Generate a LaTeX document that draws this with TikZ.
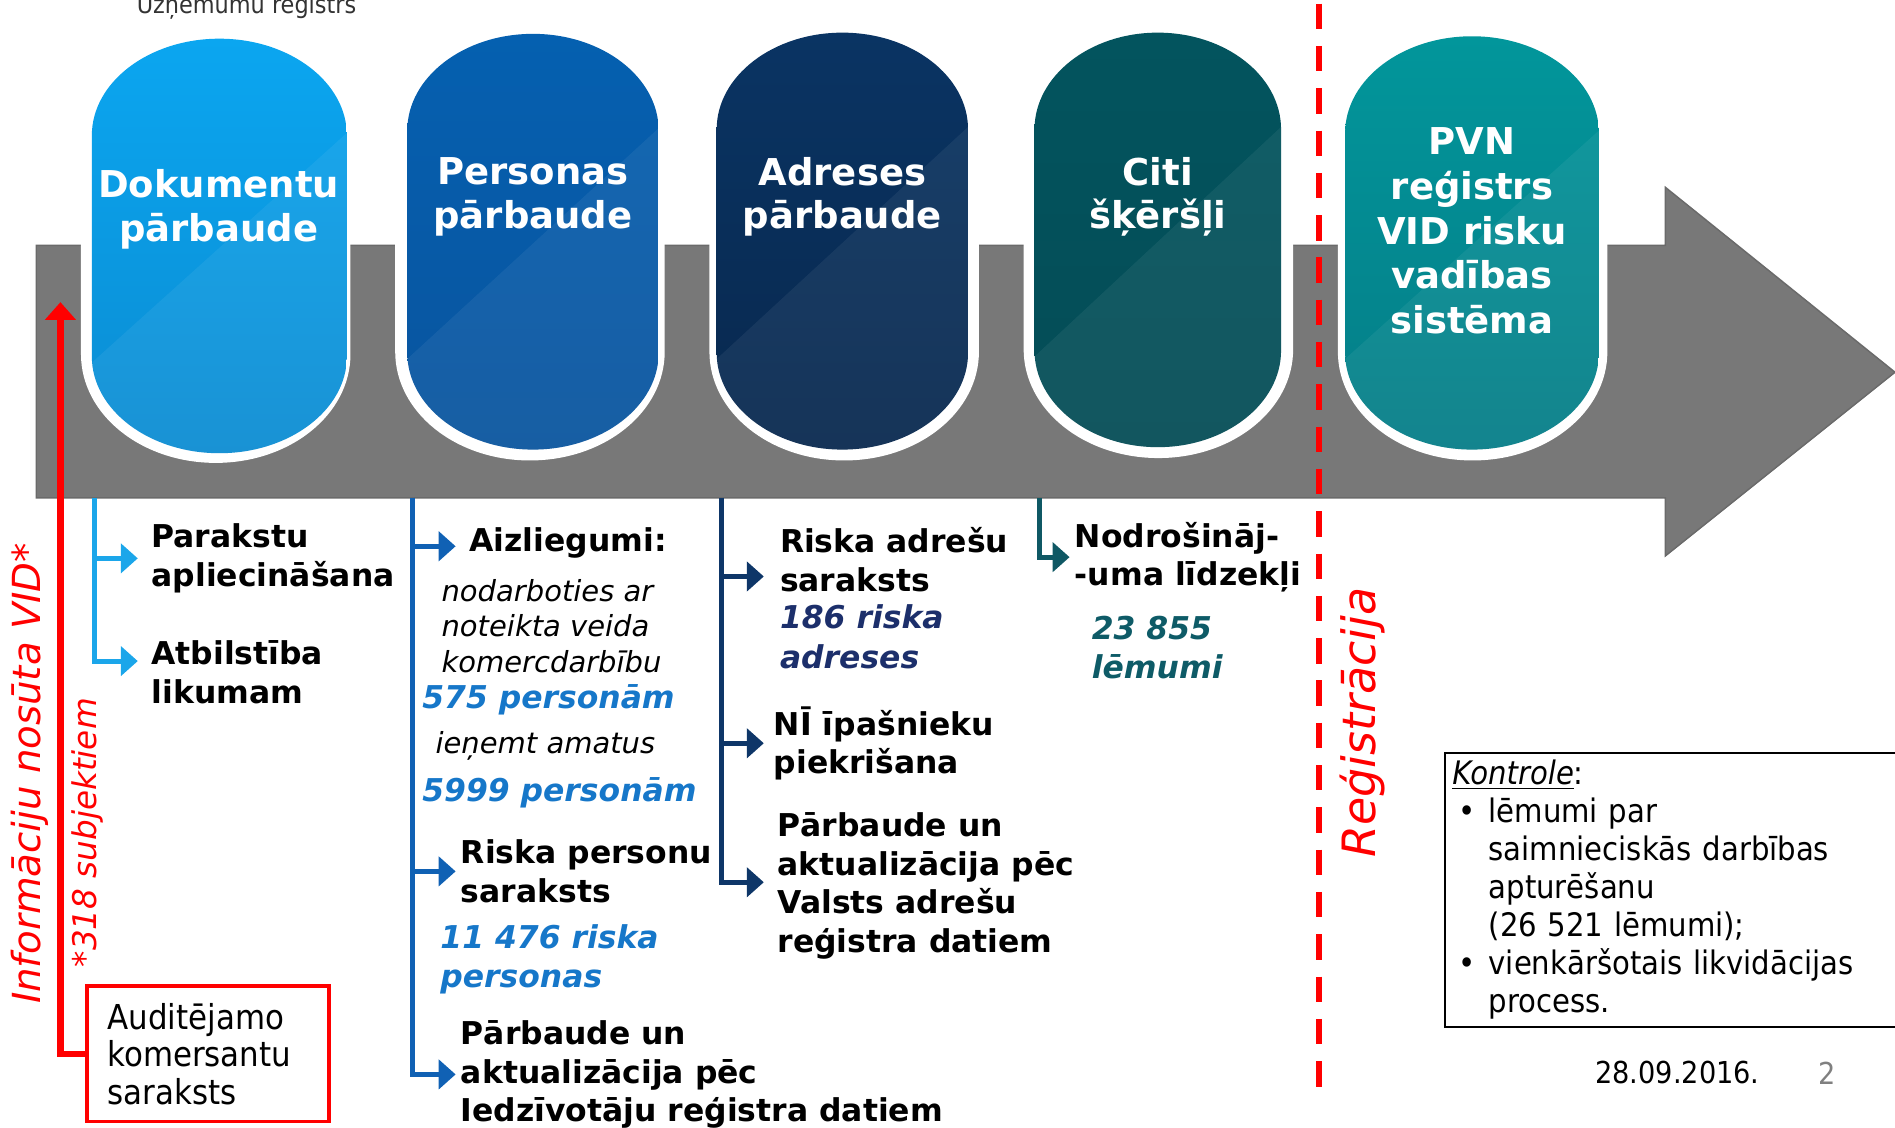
\documentclass[tikz,border=0pt]{standalone}
\usepackage{fontspec}
\setmainfont{DejaVu Sans}
\newfontfamily\tahoma{DejaVu Sans Condensed}
\usetikzlibrary{arrows.meta}

\definecolor{bargray}{HTML}{787878}
\definecolor{baredge}{HTML}{6A6A6A}
\definecolor{colA}{HTML}{1BA6EA}
\definecolor{colB}{HTML}{1061B4}
\definecolor{colC}{HTML}{0E3668}
\definecolor{colD}{HTML}{0F5864}
\definecolor{numB}{HTML}{1677C9}
\definecolor{numC}{HTML}{1C2F6B}
\definecolor{numD}{HTML}{0E5B67}

% pill: left, top, right, bottom, top colour, bottom colour (hex)
\newcommand{\drawpill}[6]{%
  \definecolor{pilltop}{HTML}{#5}
  \definecolor{pillbot}{HTML}{#6}
  \pgfmathsetmacro{\pc}{(#1+#3)/2}
  \pgfmathsetmacro{\pk}{0.552*(#3-#1)/2}
  \begin{scope}
    \clip (#1,#2+80) .. controls (#1,#2+36) and (\pc-\pk,#2) .. (\pc,#2)
      .. controls (\pc+\pk,#2) and (#3,#2+36) .. (#3,#2+80)
      -- (#3,#4-80) .. controls (#3,#4-36) and (\pc+\pk,#4) .. (\pc,#4)
      .. controls (\pc-\pk,#4) and (#1,#4-36) .. (#1,#4-80) -- cycle;
    \shade[top color=pilltop, bottom color=pillbot] (#1,#2) rectangle (#3,#4);
    \fill[white, opacity=0.06] (#1,#4-75) -- (#3,#2+78) -- (#3,#4) -- (#1,#4) -- cycle;
  \end{scope}
}
% white cut in the bar: left, right, bottom
\newcommand{\drawnotch}[3]{%
  \pgfmathsetmacro{\pc}{(#1+#2)/2}
  \pgfmathsetmacro{\pk}{0.552*(#2-#1)/2}
  \fill[white] (#1,-60) -- (#1,#3-90) .. controls (#1,#3-40) and (\pc-\pk,#3) .. (\pc,#3)
    .. controls (\pc+\pk,#3) and (#2,#3-40) .. (#2,#3-90) -- (#2,-60) -- cycle;
}

\begin{document}
\begin{tikzpicture}[x=0.5pt,y=-0.5pt,
  pilltext/.style={text=white, font=\bfseries\fontsize{15.3}{18}\selectfont, align=center},
  boldtxt/.style={anchor=west, inner sep=0pt, align=left, font=\bfseries\fontsize{13}{16}\selectfont},
  itxt/.style={anchor=west, inner sep=0pt, align=left, font=\itshape\fontsize{12}{14.75}\selectfont},
  numtxt/.style={anchor=west, inner sep=0pt, align=left, font=\bfseries\itshape\fontsize{13}{16.25}\selectfont},
  link/.style={line width=2pt, -{Triangle[length=7pt,width=12pt]}},
  redtxt/.style={text=red, rotate=90, inner sep=0pt, font=\itshape}]
  \useasboundingbox (0,0) rectangle (1568,933);

  % big arrow
  \fill[bargray, draw=baredge, line width=0.6pt] (30,203) -- (1378,203) -- (1378,155) -- (1568,308)
    -- (1378,460) -- (1378,412) -- (30,412) -- cycle;
  \drawnotch{67}{290}{383}
  \drawnotch{327}{550}{381}
  \drawnotch{587}{810}{381}
  \drawnotch{847}{1070}{379}
  \drawnotch{1107}{1330}{381}

  \drawpill{76}{32}{287}{375}{0BA6F0}{0B8CD2}
  \drawpill{337}{28}{545}{372}{0560B0}{09549E}
  \drawpill{593}{27}{801}{372}{0A3463}{08284E}
  \drawpill{856}{27}{1060}{370}{03545E}{044C56}
  \drawpill{1113}{30}{1323}{372}{02969B}{057D87}

  \node[pilltext] (p1) at (181,173) {Dokumentu\\pārbaude};
  \node[pilltext] (p2) at (441,163) {Personas\\pārbaude};
  \node[pilltext] (p3) at (697,163) {Adreses\\pārbaude};
  \node[pilltext] (p4) at (958,163) {Citi\\šķēršļi};
  \node[pilltext, font=\bfseries\fontsize{15.3}{18.5}\selectfont] (p5) at (1218,191) {PVN\\reģistrs\\VID risku\\vadības\\sistēma};

  \node[anchor=base, inner sep=0pt, text=black!80, font=\tahoma\fontsize{10.3}{12}\selectfont] (ureg) at (204,11) {Uzņēmumu reģistrs};

  % registration border
  \draw[red, line width=2.5pt, dash pattern=on 10.5pt off 7pt] (1091,3) -- (1091,905);
  \node[redtxt, font=\itshape\fontsize{19}{22}\selectfont] (reg) at (1127,598) {Reģistrācija};

  % left side
  \node[redtxt, font=\itshape\fontsize{16}{19}\selectfont] (info) at (25,640) {Informāciju nosūta VID*};
  \node[redtxt, font=\itshape\fontsize{13.5}{16}\selectfont] (subj) at (72,689) {*318 subjektiem};
  \node[draw=red, line width=1.6pt, inner xsep=8.5pt, inner ysep=0pt, text width=83pt, minimum height=56pt,
    align=left, font=\tahoma\fontsize{14.2}{15.5}\selectfont] (audit) at (172,872) {Auditējamo\\komersantu\\saraksts};
  \coordinate (rtip) at (50,250);
  \draw[red, line width=2.6pt, -{Triangle[length=7.3pt,width=12.4pt]}] (audit.west) -| (rtip);

  % column 1
  \coordinate (b1) at (78,412);
  \node[boldtxt] (t11) at (125,462) {Parakstu\\apliecināšana};
  \node[boldtxt] (t12) at (125,556) {Atbilstība\\likumam};
  \draw[link, colA, shorten >=5.5pt] (b1) |- (t11.west);
  \draw[link, colA, shorten >=5.5pt] (b1) |- ([yshift=4.5pt]t12.west);

  % column 2
  \coordinate (b2) at (341,412);
  \node[boldtxt] (t21) at (388,449) {Aizliegumi:};
  \node[itxt] (n21) at (365,518) {nodarboties ar\\noteikta veida\\komercdarbību};
  \node[numtxt, text=numB] (n22) at (349,579) {575 personām};
  \node[itxt] (n23) at (360,617) {ieņemt amatus};
  \node[numtxt, text=numB] (n24) at (349,656) {5999 personām};
  \node[boldtxt] (t22) at (381,721) {Riska personu\\saraksts};
  \node[numtxt, text=numB] (n25) at (364,794) {11 476 riska\\personas};
  \node[boldtxt] (t23) at (381,889) {Pārbaude un\\aktualizācija pēc\\Iedzīvotāju reģistra datiem};
  \draw[link, colB, shorten >=5.5pt] (b2) |- ([yshift=-1.5pt]t21.west);
  \draw[link, colB, shorten >=2pt] (b2) |- (t22.west);
  \draw[link, colB, shorten >=2pt] (b2) |- (t23.west);

  % column 3
  \coordinate (b3) at (597,412);
  \node[boldtxt] (t31) at (645,463) {Riska adrešu\\saraksts};
  \node[numtxt, text=numC] (n31) at (645,527) {186 riska\\adreses};
  \node[boldtxt] (t32) at (640,615) {NĪ īpašnieku\\piekrišana};
  \node[boldtxt] (t33) at (643,733) {Pārbaude un\\aktualizācija pēc\\Valsts adrešu\\reģistra datiem};
  \draw[link, colC, shorten >=6.5pt] (b3) |- ([yshift=-7pt]t31.west);
  \draw[link, colC, shorten >=4pt] (b3) |- (t32.west);
  \draw[link, colC, shorten >=5.5pt] (b3) |- ([yshift=1.5pt]t33.west);

  % column 4
  \coordinate (b4) at (860,412);
  \node[boldtxt] (t41) at (889,461) {Nodrošināj-\\-uma līdzekļi};
  \node[numtxt, text=numD] (n41) at (903,536) {23 855\\lēmumi};
  \draw[link, colD, shorten >=2pt] (b4) |- (t41.west);

  % control box
  \node[draw=black, line width=0.8pt, anchor=north west, inner xsep=3pt, inner ysep=3pt, text width=186pt,
    align=left, font=\tahoma\fontsize{13.4}{15.75}\selectfont] (ctrl) at (1195,622)
    {\underline{\textit{Kontrole}}:\\
     \hspace*{2.5pt}\makebox[12.5pt][l]{•}lēmumi par\\
     \hspace*{15pt}saimnieciskās darbības\\
     \hspace*{15pt}apturēšanu\\
     \hspace*{15pt}(26 521 lēmumi);\\
     \hspace*{2.5pt}\makebox[12.5pt][l]{•}vienkāršotais likvidācijas\\
     \hspace*{15pt}process.};

  \node[inner sep=0pt, font=\tahoma\fontsize{12.5}{15}\selectfont] (date) at (1388,887) {28.09.2016.};
  \node[inner sep=0pt, text=black!50, font=\tahoma\fontsize{12.5}{15}\selectfont] (page) at (1512,888) {2};
\end{tikzpicture}
\end{document}
